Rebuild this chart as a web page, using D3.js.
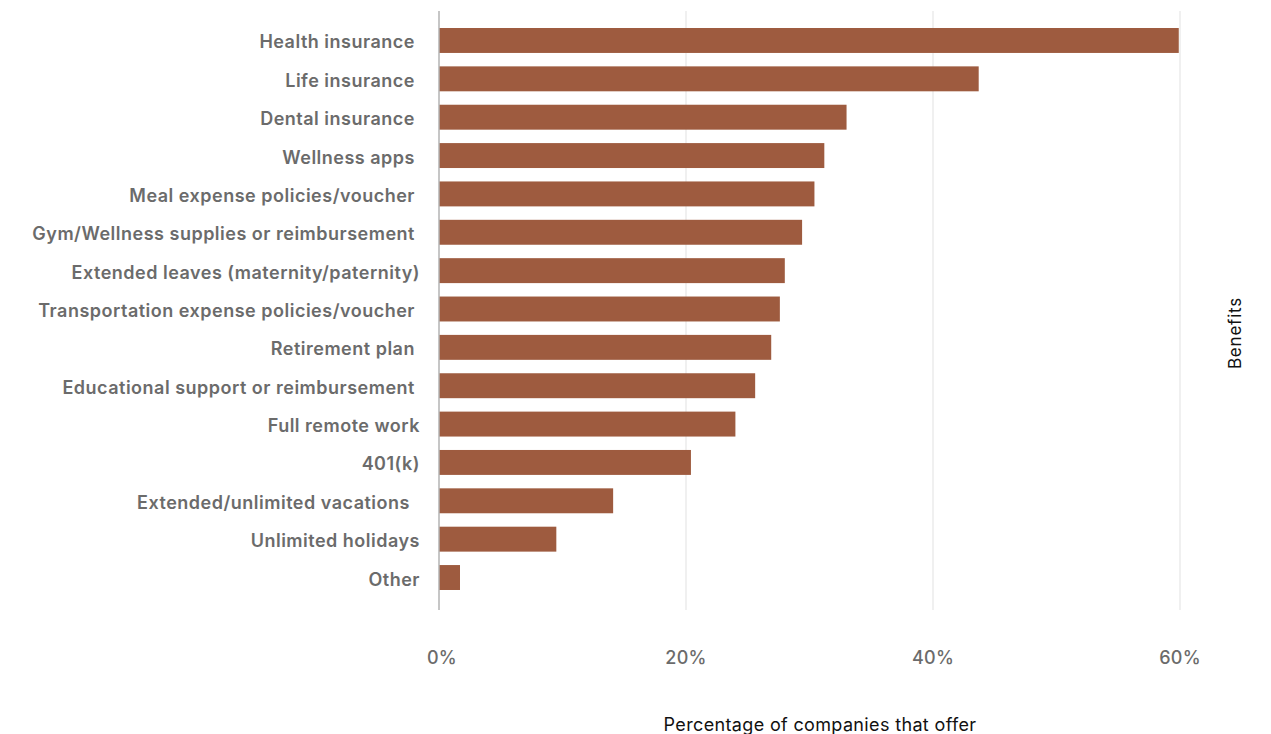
<!DOCTYPE html>
<html><head><meta charset="utf-8">
<script src="https://cdn.jsdelivr.net/npm/d3@7"></script>
<style>
html,body{margin:0;padding:0;background:#fff;}
svg{display:block;}
text{font-family:Inter,"Open Sans",sans-serif;}
</style></head>
<body>
<svg id="chart" width="1271" height="734"></svg>
<script>
const categories = [
  "Health insurance ",
  "Life insurance ",
  "Dental insurance ",
  "Wellness apps ",
  "Meal expense policies/voucher ",
  "Gym/Wellness supplies or reimbursement ",
  "Extended leaves (maternity/paternity)",
  "Transportation expense policies/voucher ",
  "Retirement plan ",
  "Educational support or reimbursement ",
  "Full remote work",
  "401(k)",
  "Extended/unlimited vacations  ",
  "Unlimited holidays",
  "Other"
];
const values = [59.9, 43.7, 33.0, 31.2, 30.4, 29.4, 28.0, 27.6, 26.9, 25.6, 24.0, 20.4, 14.1, 9.5, 1.7];
const tickValues = [0, 20, 40, 60];
const tickLabels = ["0%", "20%", "40%", "60%"];
const xTitle = "Percentage of companies that offer";
const yTitle = "Benefits";

const svg = d3.select("#chart");
const x = d3.scaleLinear().domain([0, 60]).range([439, 1180]);
const y = d3.scaleBand().domain(categories).range([21.3, 596.7]).paddingInner(0.35).paddingOuter(0.175);

// gridlines
svg.append("g").selectAll("line").data(tickValues.filter(d => d > 0)).join("line")
  .attr("x1", d => x(d)).attr("x2", d => x(d))
  .attr("y1", 11).attr("y2", 610)
  .attr("stroke", "#ebebeb").attr("stroke-width", 1.5);

// bars
svg.append("g").selectAll("rect").data(categories).join("rect")
  .attr("x", x(0))
  .attr("y", d => y(d))
  .attr("width", (d, i) => x(values[i]) - x(0))
  .attr("height", y.bandwidth())
  .attr("fill", "#9e5b3f");

// baseline axis
svg.append("line").attr("x1", x(0)).attr("x2", x(0)).attr("y1", 11).attr("y2", 610)
  .attr("stroke", "#b3b3b3").attr("stroke-width", 1.5);

// category labels
svg.append("g").selectAll("text").data(categories).join("text")
  .attr("x", 420)
  .attr("y", d => y(d) + y.bandwidth() / 2 + 1.5)
  .attr("dominant-baseline", "central")
  .attr("text-anchor", "end")
  .style("white-space", "pre")
  .attr("xml:space", "preserve")
  .attr("font-size", 18)
  .attr("letter-spacing", 0.5)
  .attr("font-weight", 600)
  .attr("fill", "#6b6b6b")
  .text(d => d);

// x tick labels
svg.append("g").selectAll("text").data(tickValues).join("text")
  .attr("x", (d, i) => x(d) + (i === 0 ? 3 : 0))
  .attr("y", 657)
  .attr("dominant-baseline", "central")
  .attr("text-anchor", "middle")
  .attr("font-size", 18)
  .attr("letter-spacing", 0.3)
  .attr("font-weight", 500)
  .attr("fill", "#6b6b6b")
  .text((d, i) => tickLabels[i]);

// x title
svg.append("text").attr("x", 820).attr("y", 724)
  .attr("dominant-baseline", "central").attr("text-anchor", "middle")
  .attr("font-size", 18).attr("letter-spacing", 0.35).attr("fill", "#111").text(xTitle);

// y title (right side)
svg.append("text").attr("transform", "translate(1235,333) rotate(-90)")
  .attr("dominant-baseline", "central").attr("text-anchor", "middle")
  .attr("font-size", 17).attr("letter-spacing", 0.8).attr("fill", "#111").text(yTitle);
</script>
</body></html>
